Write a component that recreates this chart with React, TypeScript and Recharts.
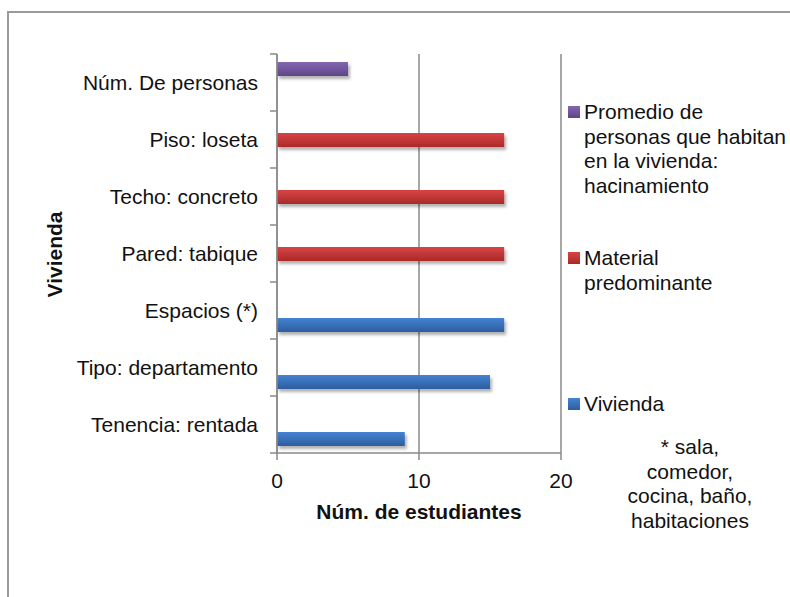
import { BarChart, Bar, XAxis, YAxis, CartesianGrid, Legend } from 'recharts'

const categories = [
  'Núm. De personas',
  'Piso: loseta',
  'Techo: concreto',
  'Pared: tabique',
  'Espacios (*)',
  'Tipo: departamento',
  'Tenencia: rentada',
]
const promedio = [5, null, null, null, null, null, null]
const material = [null, 16, 16, 16, null, null, null]
const vivienda = [null, null, null, null, 16, 15, 9]

const xTicks = [0, 10, 20]

const seriesNames = [
  'Promedio de personas que habitan en la vivienda: hacinamiento',
  'Material predominante',
  'Vivienda',
]
const legendLines = [
  ['Promedio de', 'personas que habitan', 'en la vivienda:', 'hacinamiento'],
  ['Material', 'predominante'],
  ['Vivienda'],
]
const noteLines = ['* sala,', 'comedor,', 'cocina, baño,', 'habitaciones']

const FONT = '"Liberation Sans", Arial, sans-serif'
const AXIS_GRAY = '#8a8a8a'
const GRADS = [
  { id: 'gPurple', top: '#8467b0', bottom: '#5f4688', color: '#7257a0' },
  { id: 'gRed', top: '#d84444', bottom: '#a92a2a', color: '#c63a3a' },
  { id: 'gBlue', top: '#4483d2', bottom: '#2d5d9e', color: '#3a72bd' },
]

const data = categories.map((name, i) => ({
  name,
  promedio: promedio[i],
  material: material[i],
  vivienda: vivienda[i],
}))

function BarShape(props: any) {
  const { x, y, width, height, gradId } = props
  if (!width || width <= 0) return null
  return (
    <rect x={x} y={y} width={width} height={height} fill={`url(#${gradId})`} filter="url(#barShadow)" />
  )
}

function CategoryTick(props: any) {
  const { x, y, payload, index, visibleTicksCount } = props
  const half = payload && typeof payload.offset === 'number' && payload.offset > 0 ? payload.offset : 28.5
  const ax = x + 19
  return (
    <g>
      <line x1={ax - 7} x2={ax} y1={y - half} y2={y - half} stroke={AXIS_GRAY} strokeWidth={1.5} />
      {index === visibleTicksCount - 1 && (
        <line x1={ax - 7} x2={ax} y1={y + half} y2={y + half} stroke={AXIS_GRAY} strokeWidth={1.5} />
      )}
      <text x={x} y={y} dy="0.35em" textAnchor="end" fontSize={21} fontFamily={FONT} fill="#111">
        {payload.value}
      </text>
    </g>
  )
}

function LegendContent(props: any) {
  const items = [...(props.payload || [])].sort(
    (a: any, b: any) => seriesNames.indexOf(a.value) - seriesNames.indexOf(b.value)
  )
  return (
    <div style={{ fontFamily: FONT, fontSize: 21, lineHeight: '24.5px', color: '#111' }}>
      {items.map((item: any) => {
        const idx = seriesNames.indexOf(item.value)
        return (
          <div key={item.value} style={{ position: 'relative', height: 146 }}>
            <div
              style={{
                position: 'absolute',
                left: 0,
                top: 6,
                width: 12,
                height: 12,
                background: `linear-gradient(${GRADS[idx].top}, ${GRADS[idx].bottom})`,
              }}
            />
            <div style={{ position: 'absolute', left: 16, top: 0, whiteSpace: 'nowrap' }}>
              {legendLines[idx].map((l) => (
                <div key={l}>{l}</div>
              ))}
            </div>
          </div>
        )
      })}
    </div>
  )
}

export default function App() {
  return (
    <div style={{ position: 'absolute', left: 0, top: 0, width: 790, height: 597, background: '#fff', overflow: 'hidden' }}>
      <div
        style={{
          position: 'absolute',
          left: 7,
          top: 11,
          width: 800,
          height: 600,
          borderLeft: '2px solid #9a9a9a',
          borderTop: '2px solid #9a9a9a',
        }}
      />
      <BarChart
        width={790}
        height={597}
        data={data}
        layout="vertical"
        margin={{ top: 54, right: 229, left: 0, bottom: 73 }}
        barSize={14}
        barGap={0}
        style={{ position: 'absolute', left: 0, top: 0 }}
      >
        <defs>
          {GRADS.map((g) => (
            <linearGradient key={g.id} id={g.id} x1="0" y1="0" x2="0" y2="1">
              <stop offset="0%" stopColor={g.top} />
              <stop offset="100%" stopColor={g.bottom} />
            </linearGradient>
          ))}
          <filter id="barShadow" x="-5%" y="-20%" width="115%" height="200%">
            <feDropShadow dx="2" dy="3" stdDeviation="1.5" floodColor="#000" floodOpacity="0.3" />
          </filter>
        </defs>
        <CartesianGrid horizontal={false} stroke={AXIS_GRAY} strokeWidth={1.5} />
        <XAxis
          type="number"
          domain={[0, 20]}
          ticks={xTicks}
          height={71}
          tickSize={7}
          tickMargin={13}
          axisLine={{ stroke: AXIS_GRAY, strokeWidth: 1.5 }}
          tickLine={{ stroke: AXIS_GRAY, strokeWidth: 1.5 }}
          tick={{ fontSize: 21, fontFamily: FONT, fill: '#111' }}
          label={{
            content: (p: any) => (
              <text
                x={p.viewBox.x + p.viewBox.width / 2}
                y={p.viewBox.y + 66}
                textAnchor="middle"
                fontSize={21}
                fontWeight="bold"
                fontFamily={FONT}
                fill="#111"
              >
                Núm. de estudiantes
              </text>
            ),
          }}
        />
        <YAxis
          type="category"
          dataKey="name"
          width={277}
          tickSize={7}
          tickMargin={12}
          tickLine={false}
          interval={0}
          axisLine={{ stroke: AXIS_GRAY, strokeWidth: 1.5 }}
          tick={<CategoryTick />}
          label={{
            content: (p: any) => {
              const cx = p.viewBox.x + 62
              const cy = p.viewBox.y + p.viewBox.height / 2 + 1
              return (
                <text
                  x={cx}
                  y={cy}
                  transform={`rotate(-90 ${cx} ${cy})`}
                  textAnchor="middle"
                  fontSize={21}
                  fontWeight="bold"
                  fontFamily={FONT}
                  fill="#111"
                >
                  Vivienda
                </text>
              )
            },
          }}
        />
        <Legend
          layout="vertical"
          align="center"
          verticalAlign="middle"
          content={<LegendContent />}
          wrapperStyle={{ left: 568, top: 100, width: 222, height: 438 }}
        />
        <Bar dataKey="promedio" name={seriesNames[0]} fill={GRADS[0].color} isAnimationActive={false} shape={<BarShape gradId="gPurple" />} />
        <Bar dataKey="material" name={seriesNames[1]} fill={GRADS[1].color} isAnimationActive={false} shape={<BarShape gradId="gRed" />} />
        <Bar dataKey="vivienda" name={seriesNames[2]} fill={GRADS[2].color} isAnimationActive={false} shape={<BarShape gradId="gBlue" />} />
      </BarChart>
      <div
        style={{
          position: 'absolute',
          left: 590,
          top: 435,
          width: 200,
          textAlign: 'center',
          fontFamily: FONT,
          fontSize: 21,
          lineHeight: '24.5px',
          color: '#111',
        }}
      >
        {noteLines.map((l) => (
          <div key={l}>{l}</div>
        ))}
      </div>
    </div>
  )
}
